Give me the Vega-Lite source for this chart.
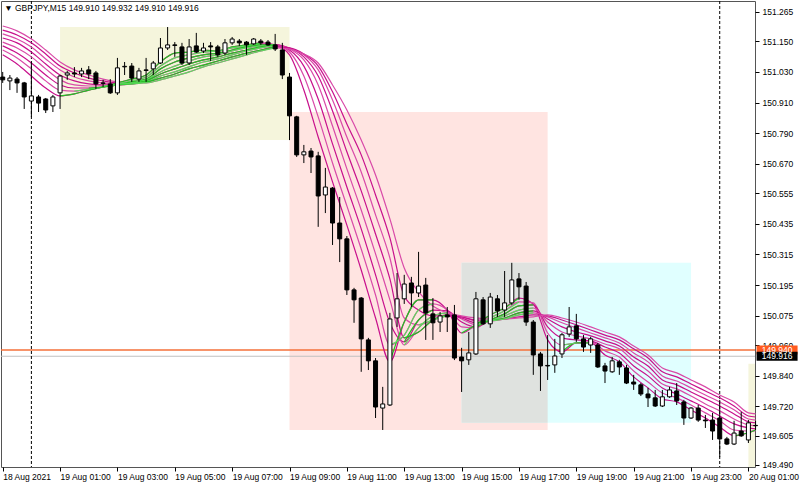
{
"$schema": "https://vega.github.io/schema/vega-lite/v6.json",
"width": 754, "height": 466,
"autosize": {"type": "none"},
"padding": {"left": 1, "top": 1, "right": 45, "bottom": 19},
"background": "#ffffff",
"title": {"text": "▼ GBPJPY,M15  149.910 149.932 149.910 149.916", "anchor": "start", "offset": -12, "dx": 4, "fontSize": 8.5, "fontWeight": "normal", "font": "Liberation Sans", "color": "#000000"},
"resolve": {"scale": {"color": "independent"}},
"layer": [
{
"data": {"values": [
{"zone":"buy","t":"2021-08-19 01:00","t2":"2021-08-19 09:00","p":151.206,"p2":150.763},
{"zone":"sell","t":"2021-08-19 09:00","t2":"2021-08-19 18:00","p":150.873,"p2":149.627},
{"zone":"range","t":"2021-08-19 15:00","t2":"2021-08-19 23:00","p":150.282,"p2":149.655},
{"zone":"overlap","t":"2021-08-19 15:00","t2":"2021-08-19 18:00","p":150.282,"p2":149.655},
{"zone":"buy","t":"2021-08-20 01:00","t2":"2021-08-20 02:00","p":149.887,"p2":149.400}
], "format": {"parse": {"t": "date:'%Y-%m-%d %H:%M'", "t2": "date:'%Y-%m-%d %H:%M'"}}},
"mark": {"type": "rect", "clip": true},
"encoding": {
"x": {"field": "t", "type": "temporal", "title": null,
 "scale": {"domain": [{"year":2021,"month":8,"date":18,"hours":22,"minutes":56,"seconds":26},{"year":2021,"month":8,"date":20,"hours":1,"minutes":13,"seconds":48}], "nice": false, "padding": 0},
 "axis": {"orient": "bottom", "title": null, "tickCount": 40, "values": [
  {"year":2021,"month":8,"date":18,"hours":23},
  {"year":2021,"month":8,"date":19,"hours":1},{"year":2021,"month":8,"date":19,"hours":3},{"year":2021,"month":8,"date":19,"hours":5},{"year":2021,"month":8,"date":19,"hours":7},{"year":2021,"month":8,"date":19,"hours":9},{"year":2021,"month":8,"date":19,"hours":11},{"year":2021,"month":8,"date":19,"hours":13},{"year":2021,"month":8,"date":19,"hours":15},{"year":2021,"month":8,"date":19,"hours":17},{"year":2021,"month":8,"date":19,"hours":19},{"year":2021,"month":8,"date":19,"hours":21},{"year":2021,"month":8,"date":19,"hours":23},
  {"year":2021,"month":8,"date":20,"hours":1}],
  "labelExpr": "timeFormat(datum.value, '%d %H') == '18 23' ? '18 Aug 2021' : timeFormat(datum.value, '%d %b %H:%M')",
  "labelAlign": "left", "labelBaseline": "top", "labelDx": 1, "labelPadding": 1, "tickSize": 4, "labelOverlap": false, "labelFlush": false, "domain": false, "grid": false}},
"x2": {"field": "t2"},
"y": {"field": "p", "type": "quantitative", "title": null,
 "scale": {"domain": [149.482, 151.308], "nice": false, "zero": false, "padding": 0},
 "axis": {"orient": "right", "title": null, "tickCount": 40, "values": [151.265,151.150,151.030,150.910,150.790,150.670,150.555,150.435,150.315,150.195,150.075,149.960,149.840,149.720,149.605,149.490],
  "format": ".3f", "tickSize": 4, "labelPadding": 3, "labelOverlap": false, "labelFlush": false, "labelBaseline": "middle", "domain": false, "grid": false}},
"y2": {"field": "p2"},
"color": {"field": "zone", "type": "nominal", "legend": null, "scale": {"domain": ["buy","sell","range","overlap"], "range": ["#f5f5dc","#ffe4e1","#e0ffff","#dfe2df"]}}
}
},
{
"data": {"values": [{"p": 149.916}]},
"mark": {"type": "rule", "color": "#c0c0c0", "strokeWidth": 1},
"encoding": {"y": {"field": "p", "type": "quantitative", "title": null}}
},
{
"data": {"values": [{"p": 149.940}]},
"mark": {"type": "rule", "color": "#f4703a", "strokeWidth": 1.5},
"encoding": {"y": {"field": "p", "type": "quantitative", "title": null}}
},
{
"data": {"values": [{"t": "2021-08-19 00:00"}, {"t": "2021-08-20 00:00"}], "format": {"parse": {"t": "date:'%Y-%m-%d %H:%M'"}}},
"mark": {"type": "rule", "color": "#000000", "strokeWidth": 1, "strokeDash": [3, 2]},
"encoding": {"x": {"field": "t", "type": "temporal", "title": null}}
},
{
"data": {"values": [
{"t":"2021-08-18 23:00","m1":151.097,"m2":151.116,"m3":151.132,"m4":151.147,"m5":151.163,"m6":151.179,"m7":151.194,"m8":151.210},
{"t":"2021-08-18 23:30","m1":151.061,"m2":151.085,"m3":151.104,"m4":151.124,"m5":151.144,"m6":151.159,"m7":151.175,"m8":151.191},
{"t":"2021-08-19 00:00","m1":151.014,"m2":151.042,"m3":151.065,"m4":151.089,"m5":151.108,"m6":151.128,"m7":151.144,"m8":151.159},
{"t":"2021-08-19 00:30","m1":150.967,"m2":150.995,"m3":151.018,"m4":151.042,"m5":151.061,"m6":151.081,"m7":151.100,"m8":151.116},
{"t":"2021-08-19 01:00","m1":150.936,"m2":150.959,"m3":150.979,"m4":150.999,"m5":151.018,"m6":151.038,"m7":151.053,"m8":151.069},
{"t":"2021-08-19 01:30","m1":150.944,"m2":150.955,"m3":150.967,"m4":150.979,"m5":150.995,"m6":151.010,"m7":151.026,"m8":151.038},
{"t":"2021-08-19 02:00","m1":150.959,"m2":150.963,"m3":150.967,"m4":150.975,"m5":150.983,"m6":150.995,"m7":151.006,"m8":151.018},
{"t":"2021-08-19 02:30","m1":150.971,"m2":150.971,"m3":150.971,"m4":150.975,"m5":150.979,"m6":150.987,"m7":150.995,"m8":151.002},
{"t":"2021-08-19 03:00","m1":150.987,"m2":150.983,"m3":150.979,"m4":150.979,"m5":150.979,"m6":150.983,"m7":150.987,"m8":150.991},
{"t":"2021-08-19 03:30","m1":151.002,"m2":150.995,"m3":150.991,"m4":150.987,"m5":150.983,"m6":150.983,"m7":150.987,"m8":150.987},
{"t":"2021-08-19 04:00","m1":151.018,"m2":151.010,"m3":151.002,"m4":150.999,"m5":150.995,"m6":150.991,"m7":150.991,"m8":150.987},
{"t":"2021-08-19 04:30","m1":151.069,"m2":151.053,"m3":151.042,"m4":151.030,"m5":151.022,"m6":151.014,"m7":151.006,"m8":150.999},
{"t":"2021-08-19 05:00","m1":151.104,"m2":151.085,"m3":151.069,"m4":151.053,"m5":151.042,"m6":151.030,"m7":151.022,"m8":151.014},
{"t":"2021-08-19 05:30","m1":151.108,"m2":151.097,"m3":151.085,"m4":151.073,"m5":151.061,"m6":151.050,"m7":151.042,"m8":151.030},
{"t":"2021-08-19 06:00","m1":151.116,"m2":151.108,"m3":151.097,"m4":151.089,"m5":151.077,"m6":151.069,"m7":151.057,"m8":151.050},
{"t":"2021-08-19 06:30","m1":151.112,"m2":151.112,"m3":151.104,"m4":151.097,"m5":151.089,"m6":151.081,"m7":151.073,"m8":151.065},
{"t":"2021-08-19 07:00","m1":151.128,"m2":151.124,"m3":151.116,"m4":151.112,"m5":151.104,"m6":151.097,"m7":151.089,"m8":151.081},
{"t":"2021-08-19 07:30","m1":151.136,"m2":151.132,"m3":151.128,"m4":151.124,"m5":151.116,"m6":151.112,"m7":151.104,"m8":151.097},
{"t":"2021-08-19 08:00","m1":151.144,"m2":151.140,"m3":151.136,"m4":151.132,"m5":151.128,"m6":151.124,"m7":151.116,"m8":151.112},
{"t":"2021-08-19 08:30","m1":151.136,"m2":151.136,"m3":151.136,"m4":151.136,"m5":151.136,"m6":151.132,"m7":151.128,"m8":151.124},
{"t":"2021-08-19 09:00","m1":151.097,"m2":151.108,"m3":151.116,"m4":151.120,"m5":151.124,"m6":151.124,"m7":151.124,"m8":151.120},
{"t":"2021-08-19 09:30","m1":150.959,"m2":151.014,"m3":151.053,"m4":151.077,"m5":151.089,"m6":151.097,"m7":151.100,"m8":151.100},
{"t":"2021-08-19 10:00","m1":150.775,"m2":150.854,"m3":150.924,"m4":150.979,"m5":151.014,"m6":151.038,"m7":151.053,"m8":151.065},
{"t":"2021-08-19 10:30","m1":150.599,"m2":150.673,"m3":150.748,"m4":150.818,"m5":150.877,"m6":150.920,"m7":150.952,"m8":150.979},
{"t":"2021-08-19 11:00","m1":150.430,"m2":150.505,"m3":150.579,"m4":150.650,"m5":150.717,"m6":150.775,"m7":150.826,"m8":150.881},
{"t":"2021-08-19 11:30","m1":150.254,"m2":150.336,"m3":150.415,"m4":150.489,"m5":150.564,"m6":150.638,"m7":150.705,"m8":150.763},
{"t":"2021-08-19 12:00","m1":150.066,"m2":150.156,"m3":150.235,"m4":150.317,"m5":150.395,"m6":150.470,"m7":150.548,"m8":150.626},
{"t":"2021-08-19 12:30","m1":149.894,"m2":149.960,"m3":150.047,"m4":150.137,"m5":150.219,"m6":150.301,"m7":150.380,"m8":150.454},
{"t":"2021-08-19 13:00","m1":150.050,"m2":149.999,"m3":149.972,"m4":149.960,"m5":149.988,"m6":150.066,"m7":150.152,"m8":150.262},
{"t":"2021-08-19 13:30","m1":150.137,"m2":150.097,"m3":150.058,"m4":150.027,"m5":150.011,"m6":150.039,"m7":150.097,"m8":150.168},
{"t":"2021-08-19 14:00","m1":150.137,"m2":150.121,"m3":150.097,"m4":150.074,"m5":150.058,"m6":150.058,"m7":150.074,"m8":150.113},
{"t":"2021-08-19 14:30","m1":150.097,"m2":150.097,"m3":150.094,"m4":150.086,"m5":150.078,"m6":150.074,"m7":150.074,"m8":150.086},
{"t":"2021-08-19 15:00","m1":150.007,"m2":150.031,"m3":150.050,"m4":150.062,"m5":150.066,"m6":150.070,"m7":150.070,"m8":150.074},
{"t":"2021-08-19 15:30","m1":150.039,"m2":150.027,"m3":150.031,"m4":150.039,"m5":150.047,"m6":150.054,"m7":150.058,"m8":150.066},
{"t":"2021-08-19 16:00","m1":150.078,"m2":150.066,"m3":150.058,"m4":150.054,"m5":150.054,"m6":150.054,"m7":150.058,"m8":150.062},
{"t":"2021-08-19 16:30","m1":150.105,"m2":150.094,"m3":150.082,"m4":150.074,"m5":150.066,"m6":150.062,"m7":150.062,"m8":150.062},
{"t":"2021-08-19 17:00","m1":150.144,"m2":150.129,"m3":150.113,"m4":150.097,"m5":150.086,"m6":150.078,"m7":150.070,"m8":150.066},
{"t":"2021-08-19 17:30","m1":150.121,"m2":150.125,"m3":150.117,"m4":150.105,"m5":150.094,"m6":150.086,"m7":150.078,"m8":150.070},
{"t":"2021-08-19 18:00","m1":149.980,"m2":150.007,"m3":150.031,"m4":150.050,"m5":150.062,"m6":150.070,"m7":150.074,"m8":150.078},
{"t":"2021-08-19 18:30","m1":149.933,"m2":149.960,"m3":149.988,"m4":150.011,"m5":150.031,"m6":150.047,"m7":150.058,"m8":150.066},
{"t":"2021-08-19 19:00","m1":149.968,"m2":149.968,"m3":149.980,"m4":149.996,"m5":150.011,"m6":150.027,"m7":150.039,"m8":150.050},
{"t":"2021-08-19 19:30","m1":149.968,"m2":149.972,"m3":149.976,"m4":149.984,"m5":149.996,"m6":150.007,"m7":150.019,"m8":150.031},
{"t":"2021-08-19 20:00","m1":149.921,"m2":149.937,"m3":149.952,"m4":149.964,"m5":149.976,"m6":149.988,"m7":149.999,"m8":150.011},
{"t":"2021-08-19 20:30","m1":149.894,"m2":149.913,"m3":149.929,"m4":149.945,"m5":149.956,"m6":149.968,"m7":149.980,"m8":149.992},
{"t":"2021-08-19 21:00","m1":149.835,"m2":149.858,"m3":149.878,"m4":149.898,"m5":149.913,"m6":149.929,"m7":149.945,"m8":149.956},
{"t":"2021-08-19 21:30","m1":149.792,"m2":149.815,"m3":149.839,"m4":149.858,"m5":149.878,"m6":149.894,"m7":149.909,"m8":149.921},
{"t":"2021-08-19 22:00","m1":149.749,"m2":149.772,"m3":149.792,"m4":149.807,"m5":149.823,"m6":149.839,"m7":149.855,"m8":149.870},
{"t":"2021-08-19 22:30","m1":149.737,"m2":149.753,"m3":149.768,"m4":149.788,"m5":149.804,"m6":149.819,"m7":149.835,"m8":149.851},
{"t":"2021-08-19 23:00","m1":149.706,"m2":149.725,"m3":149.741,"m4":149.760,"m5":149.776,"m6":149.792,"m7":149.807,"m8":149.823},
{"t":"2021-08-19 23:30","m1":149.674,"m2":149.694,"m3":149.713,"m4":149.729,"m5":149.749,"m6":149.764,"m7":149.780,"m8":149.796},
{"t":"2021-08-20 00:00","m1":149.639,"m2":149.663,"m3":149.682,"m4":149.702,"m5":149.721,"m6":149.737,"m7":149.753,"m8":149.764},
{"t":"2021-08-20 00:30","m1":149.604,"m2":149.627,"m3":149.651,"m4":149.670,"m5":149.690,"m6":149.706,"m7":149.721,"m8":149.737},
{"t":"2021-08-20 01:00","m1":149.616,"m2":149.623,"m3":149.635,"m4":149.647,"m5":149.659,"m6":149.670,"m7":149.682,"m8":149.694},
{"t":"2021-08-20 01:15","m1":149.627,"m2":149.623,"m3":149.631,"m4":149.643,"m5":149.655,"m6":149.666,"m7":149.678,"m8":149.690}
], "format": {"parse": {"t": "date:'%Y-%m-%d %H:%M'"}}},
"transform": [{"fold": ["m1","m2","m3","m4","m5","m6","m7","m8"], "as": ["k","v"]}],
"mark": {"type": "line", "interpolate": "monotone", "strokeWidth": 1.2},
"encoding": {
"x": {"field": "t", "type": "temporal", "title": null},
"y": {"field": "v", "type": "quantitative", "title": null},
"color": {"field": "k", "type": "nominal", "legend": null, "scale": {"domain": ["m1","m2","m3","m4","m5","m6","m7","m8"], "range": ["#c8108c","#d94aa8","#c8108c","#d94aa8","#c8108c","#d94aa8","#c8108c","#d94aa8"]}}
}
},
{
"data": {"values": [
{"r":1,"t":"2021-08-19 01:00","m1":150.936},
{"r":1,"t":"2021-08-19 01:30","m1":150.944,"m2":150.955},
{"r":1,"t":"2021-08-19 02:00","m1":150.959,"m2":150.963,"m3":150.967},
{"r":1,"t":"2021-08-19 02:30","m1":150.971,"m2":150.971,"m3":150.971,"m4":150.975},
{"r":1,"t":"2021-08-19 03:00","m1":150.987,"m2":150.983,"m3":150.979,"m4":150.979,"m5":150.979,"m6":150.983},
{"r":1,"t":"2021-08-19 03:30","m1":151.002,"m2":150.995,"m3":150.991,"m4":150.987,"m5":150.983,"m6":150.983,"m7":150.987,"m8":150.987},
{"r":1,"t":"2021-08-19 04:00","m1":151.018,"m2":151.010,"m3":151.002,"m4":150.999,"m5":150.995,"m6":150.991,"m7":150.991,"m8":150.987},
{"r":1,"t":"2021-08-19 04:30","m1":151.069,"m2":151.053,"m3":151.042,"m4":151.030,"m5":151.022,"m6":151.014,"m7":151.006,"m8":150.999},
{"r":1,"t":"2021-08-19 05:00","m1":151.104,"m2":151.085,"m3":151.069,"m4":151.053,"m5":151.042,"m6":151.030,"m7":151.022,"m8":151.014},
{"r":1,"t":"2021-08-19 05:30","m1":151.108,"m2":151.097,"m3":151.085,"m4":151.073,"m5":151.061,"m6":151.050,"m7":151.042,"m8":151.030},
{"r":1,"t":"2021-08-19 06:00","m1":151.116,"m2":151.108,"m3":151.097,"m4":151.089,"m5":151.077,"m6":151.069,"m7":151.057,"m8":151.050},
{"r":1,"t":"2021-08-19 06:30","m1":151.112,"m2":151.112,"m3":151.104,"m4":151.097,"m5":151.089,"m6":151.081,"m7":151.073,"m8":151.065},
{"r":1,"t":"2021-08-19 07:00","m1":151.128,"m2":151.124,"m3":151.116,"m4":151.112,"m5":151.104,"m6":151.097,"m7":151.089,"m8":151.081},
{"r":1,"t":"2021-08-19 07:30","m1":151.136,"m2":151.132,"m3":151.128,"m4":151.124,"m5":151.116,"m6":151.112,"m7":151.104,"m8":151.097},
{"r":1,"t":"2021-08-19 08:00","m1":151.144,"m2":151.140,"m3":151.136,"m4":151.132,"m5":151.128,"m6":151.124,"m7":151.116,"m8":151.112},
{"r":1,"t":"2021-08-19 08:30","m3":151.136,"m4":151.136,"m5":151.136,"m6":151.132,"m7":151.128,"m8":151.124},
{"r":2,"t":"2021-08-19 12:30","m1":149.894,"m2":149.960},
{"r":2,"t":"2021-08-19 13:00","m1":150.050,"m2":149.999,"m3":149.972,"m4":149.960,"m5":149.988},
{"r":2,"t":"2021-08-19 13:30","m1":150.137,"m2":150.097,"m3":150.058,"m4":150.027,"m5":150.011,"m6":150.039},
{"r":2,"t":"2021-08-19 14:00","m1":150.137,"m2":150.121,"m3":150.097,"m4":150.074,"m5":150.058,"m6":150.058},
{"r":2,"t":"2021-08-19 14:30","m4":150.086,"m5":150.078,"m6":150.074},
{"r":3,"t":"2021-08-19 15:00","m1":150.007},
{"r":3,"t":"2021-08-19 15:30","m1":150.039,"m2":150.027,"m3":150.031,"m4":150.039,"m5":150.047},
{"r":3,"t":"2021-08-19 16:00","m1":150.078,"m2":150.066,"m3":150.058,"m4":150.054,"m5":150.054,"m6":150.054},
{"r":3,"t":"2021-08-19 16:30","m1":150.105,"m2":150.094,"m3":150.082,"m4":150.074,"m5":150.066,"m6":150.062},
{"r":3,"t":"2021-08-19 17:00","m1":150.144,"m2":150.129,"m3":150.113,"m4":150.097,"m5":150.086,"m6":150.078},
{"r":3,"t":"2021-08-19 17:30","m3":150.117,"m4":150.105,"m5":150.094,"m6":150.086},
{"r":4,"t":"2021-08-19 18:30","m1":149.933,"m2":149.960},
{"r":4,"t":"2021-08-19 19:00","m1":149.968,"m2":149.968},
{"r":4,"t":"2021-08-19 19:30","m1":149.968},
{"r":5,"t":"2021-08-20 00:30","m1":149.604},
{"r":5,"t":"2021-08-20 01:00","m1":149.616},
{"r":5,"t":"2021-08-20 01:15","m1":149.627}
], "format": {"parse": {"t": "date:'%Y-%m-%d %H:%M'"}}},
"transform": [{"fold": ["m1","m2","m3","m4","m5","m6","m7","m8"], "as": ["k","v"]}, {"filter": "isValid(datum.v)"}],
"mark": {"type": "line", "interpolate": "monotone", "strokeWidth": 1.2},
"encoding": {
"x": {"field": "t", "type": "temporal", "title": null},
"y": {"field": "v", "type": "quantitative", "title": null},
"detail": {"field": "r", "type": "nominal"},
"color": {"field": "k", "type": "nominal", "legend": null, "scale": {"domain": ["m1","m2","m3","m4","m5","m6","m7","m8"], "range": ["#22c322","#5fd85f","#22c322","#5fd85f","#22c322","#5fd85f","#22c322","#5fd85f"]}}
}
},
{
"data": {"values": [
{"t":"2021-08-18 23:00","o":151.010,"h":151.030,"l":150.987,"c":150.999},
{"t":"2021-08-18 23:15","o":150.995,"h":151.018,"l":150.959,"c":151.006},
{"t":"2021-08-18 23:30","o":151.002,"h":151.010,"l":150.948,"c":150.987},
{"t":"2021-08-18 23:45","o":150.987,"h":150.991,"l":150.885,"c":150.932},
{"t":"2021-08-19 00:00","o":150.916,"h":151.069,"l":150.854,"c":150.936},
{"t":"2021-08-19 00:15","o":150.932,"h":150.940,"l":150.873,"c":150.908},
{"t":"2021-08-19 00:30","o":150.924,"h":150.928,"l":150.869,"c":150.881},
{"t":"2021-08-19 00:45","o":150.897,"h":150.940,"l":150.873,"c":150.932},
{"t":"2021-08-19 01:00","o":150.948,"h":151.018,"l":150.885,"c":151.014},
{"t":"2021-08-19 01:15","o":151.018,"h":151.034,"l":150.999,"c":151.026},
{"t":"2021-08-19 01:30","o":151.026,"h":151.049,"l":151.010,"c":151.022},
{"t":"2021-08-19 01:45","o":151.022,"h":151.046,"l":151.010,"c":151.034},
{"t":"2021-08-19 02:00","o":151.038,"h":151.053,"l":151.002,"c":151.022},
{"t":"2021-08-19 02:15","o":151.026,"h":151.034,"l":150.963,"c":150.983},
{"t":"2021-08-19 02:30","o":150.985,"h":150.999,"l":150.971,"c":150.987},
{"t":"2021-08-19 02:45","o":150.983,"h":151.002,"l":150.944,"c":150.948},
{"t":"2021-08-19 03:00","o":150.948,"h":151.085,"l":150.940,"c":151.046},
{"t":"2021-08-19 03:15","o":151.050,"h":151.069,"l":151.018,"c":151.052},
{"t":"2021-08-19 03:30","o":151.053,"h":151.065,"l":150.991,"c":151.006},
{"t":"2021-08-19 03:45","o":151.002,"h":151.046,"l":150.991,"c":151.034},
{"t":"2021-08-19 04:00","o":151.038,"h":151.085,"l":150.991,"c":151.036},
{"t":"2021-08-19 04:15","o":151.042,"h":151.073,"l":151.018,"c":151.065},
{"t":"2021-08-19 04:30","o":151.065,"h":151.163,"l":151.061,"c":151.124},
{"t":"2021-08-19 04:45","o":151.124,"h":151.206,"l":151.116,"c":151.136},
{"t":"2021-08-19 05:00","o":151.136,"h":151.147,"l":151.089,"c":151.134},
{"t":"2021-08-19 05:15","o":151.128,"h":151.144,"l":151.057,"c":151.065},
{"t":"2021-08-19 05:30","o":151.065,"h":151.159,"l":151.057,"c":151.128},
{"t":"2021-08-19 05:45","o":151.132,"h":151.183,"l":151.104,"c":151.108},
{"t":"2021-08-19 06:00","o":151.112,"h":151.144,"l":151.104,"c":151.124},
{"t":"2021-08-19 06:15","o":151.132,"h":151.147,"l":151.073,"c":151.128},
{"t":"2021-08-19 06:30","o":151.128,"h":151.136,"l":151.089,"c":151.097},
{"t":"2021-08-19 06:45","o":151.104,"h":151.159,"l":151.097,"c":151.144},
{"t":"2021-08-19 07:00","o":151.144,"h":151.167,"l":151.136,"c":151.159},
{"t":"2021-08-19 07:15","o":151.151,"h":151.159,"l":151.132,"c":151.144},
{"t":"2021-08-19 07:30","o":151.147,"h":151.151,"l":151.097,"c":151.136},
{"t":"2021-08-19 07:45","o":151.140,"h":151.163,"l":151.136,"c":151.159},
{"t":"2021-08-19 08:00","o":151.151,"h":151.159,"l":151.136,"c":151.144},
{"t":"2021-08-19 08:15","o":151.147,"h":151.155,"l":151.132,"c":151.136},
{"t":"2021-08-19 08:30","o":151.136,"h":151.179,"l":151.112,"c":151.120},
{"t":"2021-08-19 08:45","o":151.116,"h":151.144,"l":151.002,"c":151.018},
{"t":"2021-08-19 09:00","o":151.010,"h":151.026,"l":150.763,"c":150.858},
{"t":"2021-08-19 09:15","o":150.854,"h":150.858,"l":150.697,"c":150.705},
{"t":"2021-08-19 09:30","o":150.705,"h":150.744,"l":150.673,"c":150.717},
{"t":"2021-08-19 09:45","o":150.720,"h":150.732,"l":150.634,"c":150.697},
{"t":"2021-08-19 10:00","o":150.701,"h":150.717,"l":150.423,"c":150.544},
{"t":"2021-08-19 10:15","o":150.548,"h":150.654,"l":150.477,"c":150.579},
{"t":"2021-08-19 10:30","o":150.575,"h":150.579,"l":150.352,"c":150.438},
{"t":"2021-08-19 10:45","o":150.438,"h":150.540,"l":150.285,"c":150.376},
{"t":"2021-08-19 11:00","o":150.376,"h":150.387,"l":150.156,"c":150.176},
{"t":"2021-08-19 11:15","o":150.176,"h":150.184,"l":150.047,"c":150.137},
{"t":"2021-08-19 11:30","o":150.144,"h":150.148,"l":149.855,"c":149.984},
{"t":"2021-08-19 11:45","o":149.980,"h":149.988,"l":149.862,"c":149.898},
{"t":"2021-08-19 12:00","o":149.898,"h":149.909,"l":149.674,"c":149.717},
{"t":"2021-08-19 12:15","o":149.713,"h":149.796,"l":149.627,"c":149.729},
{"t":"2021-08-19 12:30","o":149.725,"h":150.086,"l":149.721,"c":150.062},
{"t":"2021-08-19 12:45","o":150.066,"h":150.242,"l":150.031,"c":150.141},
{"t":"2021-08-19 13:00","o":150.141,"h":150.235,"l":150.121,"c":150.199},
{"t":"2021-08-19 13:15","o":150.203,"h":150.227,"l":150.109,"c":150.164},
{"t":"2021-08-19 13:30","o":150.164,"h":150.325,"l":150.148,"c":150.191},
{"t":"2021-08-19 13:45","o":150.195,"h":150.223,"l":149.980,"c":150.086},
{"t":"2021-08-19 14:00","o":150.082,"h":150.144,"l":149.980,"c":150.047},
{"t":"2021-08-19 14:15","o":150.050,"h":150.090,"l":150.011,"c":150.074},
{"t":"2021-08-19 14:30","o":150.078,"h":150.109,"l":150.011,"c":150.070},
{"t":"2021-08-19 14:45","o":150.078,"h":150.117,"l":149.901,"c":149.909},
{"t":"2021-08-19 15:00","o":149.913,"h":149.949,"l":149.776,"c":149.898},
{"t":"2021-08-19 15:15","o":149.902,"h":150.011,"l":149.882,"c":149.929},
{"t":"2021-08-19 15:30","o":149.925,"h":150.168,"l":149.921,"c":150.141},
{"t":"2021-08-19 15:45","o":150.137,"h":150.148,"l":150.039,"c":150.043},
{"t":"2021-08-19 16:00","o":150.043,"h":150.164,"l":150.027,"c":150.148},
{"t":"2021-08-19 16:15","o":150.141,"h":150.156,"l":150.070,"c":150.094},
{"t":"2021-08-19 16:30","o":150.097,"h":150.250,"l":150.070,"c":150.125},
{"t":"2021-08-19 16:45","o":150.125,"h":150.282,"l":150.117,"c":150.215},
{"t":"2021-08-19 17:00","o":150.219,"h":150.242,"l":150.137,"c":150.188},
{"t":"2021-08-19 17:15","o":150.191,"h":150.207,"l":150.035,"c":150.050},
{"t":"2021-08-19 17:30","o":150.050,"h":150.058,"l":149.843,"c":149.921},
{"t":"2021-08-19 17:45","o":149.925,"h":149.933,"l":149.780,"c":149.878},
{"t":"2021-08-19 18:00","o":149.880,"h":149.999,"l":149.823,"c":149.878},
{"t":"2021-08-19 18:15","o":149.882,"h":149.984,"l":149.851,"c":149.917},
{"t":"2021-08-19 18:30","o":149.925,"h":150.007,"l":149.909,"c":150.000},
{"t":"2021-08-19 18:45","o":150.003,"h":150.109,"l":149.992,"c":150.031},
{"t":"2021-08-19 19:00","o":150.035,"h":150.082,"l":149.972,"c":149.984},
{"t":"2021-08-19 19:15","o":149.984,"h":149.999,"l":149.933,"c":149.952},
{"t":"2021-08-19 19:30","o":149.960,"h":149.992,"l":149.929,"c":149.984},
{"t":"2021-08-19 19:45","o":149.960,"h":149.968,"l":149.870,"c":149.874},
{"t":"2021-08-19 20:00","o":149.878,"h":149.890,"l":149.811,"c":149.858},
{"t":"2021-08-19 20:15","o":149.855,"h":149.913,"l":149.851,"c":149.898},
{"t":"2021-08-19 20:30","o":149.894,"h":149.902,"l":149.843,"c":149.874},
{"t":"2021-08-19 20:45","o":149.870,"h":149.882,"l":149.807,"c":149.811},
{"t":"2021-08-19 21:00","o":149.815,"h":149.843,"l":149.784,"c":149.807},
{"t":"2021-08-19 21:15","o":149.804,"h":149.811,"l":149.760,"c":149.768},
{"t":"2021-08-19 21:30","o":149.768,"h":149.792,"l":149.717,"c":149.753},
{"t":"2021-08-19 21:45","o":149.753,"h":149.784,"l":149.717,"c":149.721},
{"t":"2021-08-19 22:00","o":149.721,"h":149.784,"l":149.717,"c":149.757},
{"t":"2021-08-19 22:15","o":149.757,"h":149.796,"l":149.753,"c":149.784},
{"t":"2021-08-19 22:30","o":149.780,"h":149.811,"l":149.725,"c":149.741},
{"t":"2021-08-19 22:45","o":149.737,"h":149.745,"l":149.647,"c":149.674},
{"t":"2021-08-19 23:00","o":149.674,"h":149.717,"l":149.670,"c":149.713},
{"t":"2021-08-19 23:15","o":149.713,"h":149.725,"l":149.659,"c":149.666},
{"t":"2021-08-19 23:30","o":149.666,"h":149.686,"l":149.635,"c":149.663},
{"t":"2021-08-19 23:45","o":149.666,"h":149.694,"l":149.588,"c":149.623},
{"t":"2021-08-20 00:00","o":149.674,"h":149.745,"l":149.521,"c":149.592},
{"t":"2021-08-20 00:15","o":149.592,"h":149.600,"l":149.568,"c":149.572},
{"t":"2021-08-20 00:30","o":149.572,"h":149.663,"l":149.568,"c":149.615},
{"t":"2021-08-20 00:45","o":149.623,"h":149.698,"l":149.600,"c":149.604},
{"t":"2021-08-20 01:00","o":149.588,"h":149.666,"l":149.576,"c":149.655},
{"t":"2021-08-20 01:15","o":149.645,"h":149.663,"l":149.627,"c":149.644}
], "format": {"parse": {"t": "date:'%Y-%m-%d %H:%M'"}}},
"layer": [
{"mark": {"type": "rule", "color": "#000000", "strokeWidth": 1},
 "encoding": {"x": {"field": "t", "type": "temporal", "title": null}, "y": {"field": "l", "type": "quantitative", "title": null}, "y2": {"field": "h"}}},
{"mark": {"type": "bar", "width": 4, "stroke": "#000000", "strokeWidth": 1},
 "encoding": {"x": {"field": "t", "type": "temporal", "title": null}, "y": {"field": "o", "type": "quantitative", "title": null}, "y2": {"field": "c"},
  "fill": {"condition": {"test": "datum.c > datum.o", "value": "#ffffff"}, "value": "#000000"}}}
]
},
{
"data": {"values": [{"kind": "line", "p": 149.940}, {"kind": "bid", "p": 149.916}]},
"layer": [
{"mark": {"type": "tick", "orient": "horizontal", "size": 41, "thickness": 9, "opacity": 1},
 "encoding": {"x": {"datum": {"year":2021,"month":8,"date":20,"hours":2}, "type": "temporal"}, "y": {"field": "p", "type": "quantitative", "title": null},
  "color": {"field": "kind", "type": "nominal", "legend": null, "scale": {"domain": ["line","bid"], "range": ["#ff5a1f","#000000"]}}}},
{"mark": {"type": "text", "align": "center", "baseline": "middle", "fontSize": 8.5, "font": "Liberation Sans", "color": "#ffffff"},
 "encoding": {"x": {"datum": {"year":2021,"month":8,"date":20,"hours":2}, "type": "temporal"}, "y": {"field": "p", "type": "quantitative", "title": null},
  "text": {"field": "p", "type": "quantitative", "format": ".3f"}}}
]
}
],
"config": {
"view": {"stroke": "#555555", "strokeWidth": 1},
"scale": {"continuousPadding": 0},
"axis": {"labelFont": "Liberation Sans", "labelFontSize": 8.5, "labelColor": "#000000", "tickColor": "#000000", "domain": false, "grid": false, "labelOverlap": false},
"font": "Liberation Sans"
}
}
